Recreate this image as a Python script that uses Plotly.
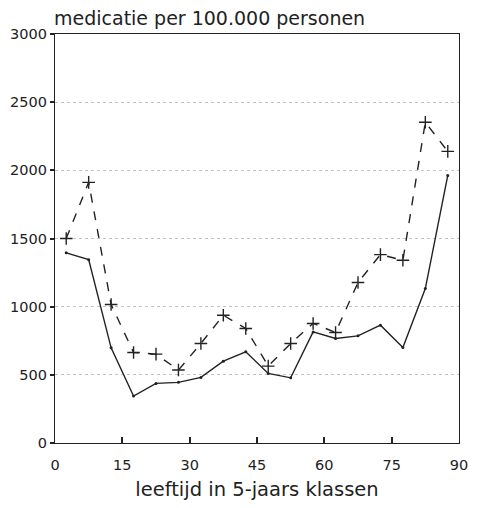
import plotly.graph_objects as go

ages = [2.5, 7.5, 12.5, 17.5, 22.5, 27.5, 32.5, 37.5, 42.5, 47.5, 52.5, 57.5, 62.5, 67.5, 72.5, 77.5, 82.5, 87.5]
solid_vals = [1395, 1345, 698, 344, 437, 445, 481, 600, 669, 510, 478, 815, 767, 786, 864, 701, 1133, 1963]
dashed_vals = [1500, 1912, 1016, 664, 652, 535, 730, 937, 840, 564, 730, 877, 811, 1177, 1382, 1340, 2353, 2139]
x_ticks = [0, 15, 30, 45, 60, 75, 90]
y_ticks = [0, 500, 1000, 1500, 2000, 2500, 3000]

FONT = "DejaVu Sans"

fig = go.Figure()
fig.add_trace(go.Scatter(
    x=ages, y=dashed_vals, mode="lines+markers",
    line=dict(color="#222", width=1.4, dash="dash"),
    marker=dict(symbol="cross-thin", size=9, line=dict(color="#222", width=1.4)),
    showlegend=False,
))
fig.add_trace(go.Scatter(
    x=ages, y=solid_vals, mode="lines+markers",
    line=dict(color="#222", width=1.4),
    marker=dict(symbol="circle", size=3, color="#222"),
    showlegend=False,
))

fig.update_layout(
    width=478, height=508,
    margin=dict(l=54, r=10, t=34, b=65),
    paper_bgcolor="white", plot_bgcolor="white",
    font=dict(family=FONT, size=14.5, color="#222"),
    xaxis=dict(
        range=[0, 90], tickvals=x_ticks, ticktext=[str(v) for v in x_ticks],
        ticks="inside", ticklen=6, tickcolor="#222", tickwidth=1.5,
        ticklabelstandoff=8,
        showline=True, mirror=True, linecolor="#222", linewidth=1.2,
        showgrid=False, zeroline=False,
        title=dict(text="leeftijd in 5-jaars klassen", font=dict(size=19.5), standoff=10),
    ),
    yaxis=dict(
        range=[0, 3000], tickvals=y_ticks, ticktext=[str(v) for v in y_ticks],
        ticks="outside", ticklen=4, tickcolor="#222", tickwidth=1.5,
        showline=True, mirror=True, linecolor="#222", linewidth=1.2,
        showgrid=True, gridcolor="#c4c4c4", griddash="dot", gridwidth=1,
        zeroline=False,
    ),
    annotations=[dict(
        text="medicatie per 100.000 personen", xref="paper", yref="paper",
        x=0, y=1, xanchor="left", yanchor="bottom", showarrow=False,
        font=dict(size=19, family=FONT, color="#222"), xshift=-3, yshift=3,
    )],
)

fig.write_html("out.html")
